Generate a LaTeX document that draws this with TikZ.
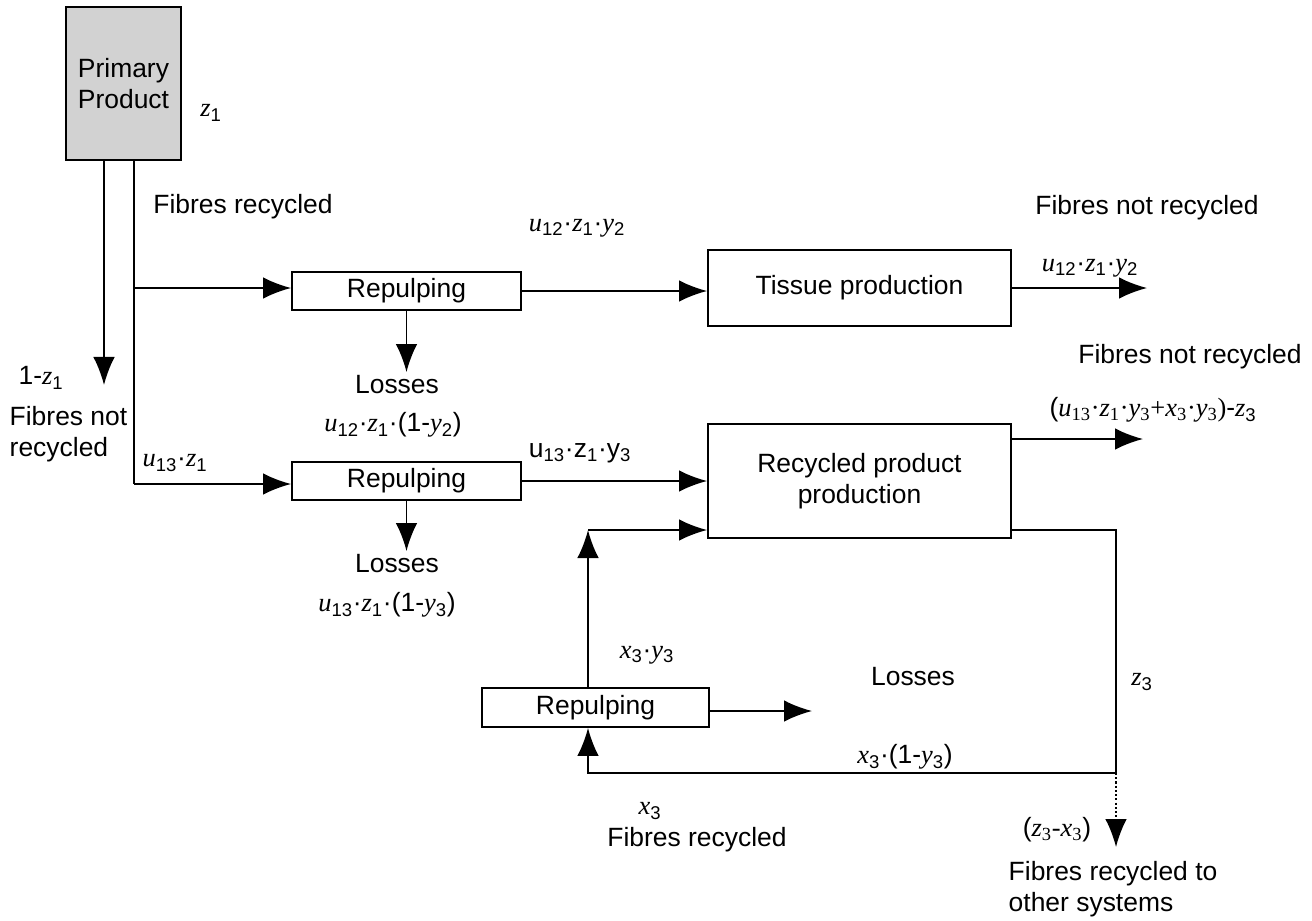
\documentclass[tikz,border=0pt]{standalone}
\usepackage{fontspec}
\setmainfont{Liberation Sans}
\newfontfamily\varfont{Liberation Serif}
\usetikzlibrary{arrows.meta}
\definecolor{boxgray}{RGB}{210,210,210}
\newcommand{\vv}[2]{{\varfont\itshape #1}\textsubscript{#2}}
\newcommand{\md}{\textperiodcentered}
\begin{document}
\begin{tikzpicture}[x=0.025cm, y=-0.025cm, line width=1.3pt,
    >={Latex[length=7mm,width=5.4mm]},
    every node/.style={font=\fontsize{18.8}{22.5}\selectfont},
    block/.style={rectangle, draw, line width=1.3pt, align=center},
    lbl/.style={inner sep=2pt}]
    \useasboundingbox (0,0) rectangle (1312,920);
    % boxes
    \node[block, fill=boxgray, minimum width=2.875cm, minimum height=3.825cm] (primary) at (123.5,83.5) {Primary\\Product};
    \node[block, minimum width=5.725cm, minimum height=0.95cm] (rep1) at (406.5,291) {Repulping};
    \node[block, minimum width=5.725cm, minimum height=0.95cm] (rep2) at (406.5,481) {Repulping};
    \node[block, minimum width=5.675cm, minimum height=0.975cm] (rep3) at (595.5,707.5) {Repulping};
    \node[block, minimum width=7.575cm, minimum height=1.9cm] (tissue) at (859.5,288) {Tissue production};
    \node[block, minimum width=7.575cm, minimum height=2.85cm] (recycled) at (859.5,481) {Recycled product\\production};
    % texts
    \node[lbl] at (211,113) {\vv{z}{1}};
    \node[lbl] at (243,207) {Fibres recycled};
    \node[lbl] at (577,228) {\vv{u}{12}\md\vv{z}{1}\md\vv{y}{2}};
    \node[lbl] at (1147,208) {Fibres not recycled};
    \node[lbl] at (1090,268) {\vv{u}{12}\md\vv{z}{1}\md\vv{y}{2}};
    \node[lbl] (loss1) at (397,385) {Losses};
    \node[lbl] at (393,425) {\vv{u}{12}\md\vv{z}{1}\md(1-\vv{y}{2})};
    \node[lbl] at (41,378) {1-\vv{z}{1}};
    \node[lbl, anchor=west, align=left] at (6,434) {Fibres not\\recycled};
    \node[lbl] at (175,463) {\vv{u}{13}\md\vv{z}{1}};
    \node[lbl] at (580,453) {u\textsubscript{13}\md z\textsubscript{1}\md y\textsubscript{3}};
    \node[lbl] at (1190,357) {Fibres not recycled};
    \node[lbl] at (1153,410) {({\varfont\vv{u}{13}\md\vv{z}{1}\md\vv{y}{3}+\vv{x}{3}\md\vv{y}{3})}-\vv{z}{3}};
    \node[lbl] (loss2) at (397,564) {Losses};
    \node[lbl] at (387,605) {\vv{u}{13}\md\vv{z}{1}\md(1-\vv{y}{3})};
    \node[lbl] at (647,655) {\vv{x}{3}\md\vv{y}{3}};
    \node[lbl] at (913,677) {Losses};
    \node[lbl] at (1142,682) {\vv{z}{3}};
    \node[lbl] at (905,757) {\vv{x}{3}\md(1-\vv{y}{3})};
    \node[lbl] at (650,811) {\vv{x}{3}};
    \node[lbl] at (697,840) {Fibres recycled};
    \node[lbl] at (1057,830) {({\varfont\vv{z}{3}-\vv{x}{3}})};
    \node[lbl, anchor=west, align=left] at (1005,889) {Fibres recycled to\\other systems};
    % points
    \coordinate (notrec) at (104,385);
    \coordinate (fork) at (134,288);
    \coordinate (split) at (134,484);
    \coordinate (outT) at (1147,288);
    \coordinate (outR) at (1143,439);
    \coordinate (join) at (588,530);
    \coordinate (loss3) at (812,711);
    \coordinate (corner) at (1116,530);
    \coordinate (branch) at (1116,773);
    \coordinate (other) at (1116,847);
    % flows
    \draw[->] (primary.south -| notrec) -- (notrec);
    \draw (primary.south -| split) -- (split);
    \draw[->] (fork) -- (fork -| rep1.west);
    \draw[->] (split) -- (split -| rep2.west);
    \draw[->] (rep1.east) -- (rep1.east -| tissue.west);
    \draw[->] (rep1.south) -- (rep1.south |- loss1.north);
    \draw[->] (tissue.east) -- (outT);
    \draw[->] (rep2.east) -- (rep2.east -| recycled.west);
    \draw[->] (rep2.south) -- (rep2.south |- loss2.north);
    \draw[->] (outR -| recycled.east) -- (outR);
    \draw[->] (rep3.north -| join) -- (join);
    \draw[->] (join) -- (join -| recycled.west);
    \draw[->] (loss3 -| rep3.east) -- (loss3);
    \draw[->] (corner -| recycled.east) -- (corner) -- (branch) -- (branch -| join) -- (rep3.south -| join);
    \draw[->, dash pattern=on 1.5pt off 1.5pt] (branch) -- (other);
\end{tikzpicture}
\end{document}
